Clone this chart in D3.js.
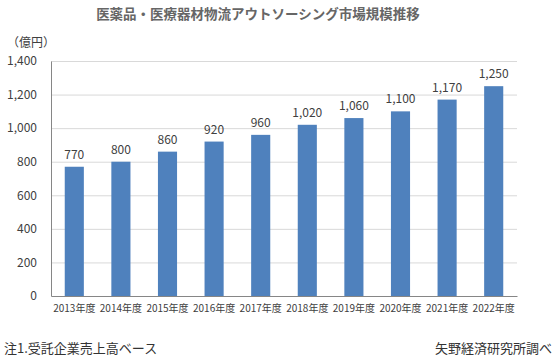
<!DOCTYPE html>
<html>
<head>
<meta charset="utf-8">
<script src="https://cdn.jsdelivr.net/npm/d3@7"></script>
<style>
  body { margin: 0; background: #fff; }
  text { font-family: "Noto Sans CJK JP", "Noto Sans", sans-serif; }
</style>
</head>
<body>
<div id="chart"></div>
<script>
const years = ['2013年度', '2014年度', '2015年度', '2016年度', '2017年度', '2018年度', '2019年度', '2020年度', '2021年度', '2022年度'];
const values = [770, 800, 860, 920, 960, 1020, 1060, 1100, 1170, 1250];
const yTicks = [0, 200, 400, 600, 800, 1000, 1200, 1400];

const width = 559;
const height = 362;
const plotLeft = 51, plotRight = 517, plotTop = 61, plotBottom = 296;

const svg = d3.select('#chart')
  .append('svg')
  .attr('width', width)
  .attr('height', height);

const x = d3.scaleBand().domain(years).range([plotLeft, plotRight]).paddingInner(0.59).paddingOuter(0.295);
const y = d3.scaleLinear().domain([0, 1400]).range([plotBottom, plotTop]);

// gridlines
svg.append('g')
  .selectAll('line')
  .data(yTicks.filter(d => d > 0))
  .enter()
  .append('line')
  .attr('x1', plotLeft)
  .attr('x2', plotRight)
  .attr('y1', d => y(d) + 0.5)
  .attr('y2', d => y(d) + 0.5)
  .attr('stroke', '#d9d9d9');

// bars
svg.append('g')
  .selectAll('rect')
  .data(values)
  .enter()
  .append('rect')
  .attr('x', (d, i) => x(years[i]))
  .attr('y', d => y(d))
  .attr('width', x.bandwidth())
  .attr('height', d => plotBottom - y(d))
  .attr('fill', '#4f81bd');

// value labels
svg.append('g')
  .selectAll('text')
  .data(values)
  .enter()
  .append('text')
  .attr('x', (d, i) => x(years[i]) + x.bandwidth() / 2)
  .attr('y', d => y(d) - 8)
  .attr('text-anchor', 'middle')
  .attr('font-size', 12)
  .attr('fill', '#404040')
  .text(d => d3.format(',')(d));

// axes
const yAxis = d3.axisLeft(y).tickValues(yTicks).tickFormat(d3.format(',')).tickSize(0).tickPadding(14);
const gy = svg.append('g')
  .attr('transform', 'translate(' + plotLeft + ',0)')
  .call(yAxis);
gy.select('.domain').attr('stroke', '#868686');
gy.selectAll('text').attr('font-size', 12).attr('fill', '#404040');

const xAxis = d3.axisBottom(x).tickSize(0).tickPadding(9);
const gx = svg.append('g')
  .attr('transform', 'translate(0,' + plotBottom + ')')
  .call(xAxis);
gx.select('.domain').attr('stroke', '#868686');
gx.selectAll('text').attr('font-size', 10).attr('fill', '#404040');

// title and notes
svg.append('text')
  .attr('x', 258)
  .attr('y', 19)
  .attr('text-anchor', 'middle')
  .attr('font-size', 13.5)
  .attr('font-weight', 'bold')
  .attr('fill', '#666')
  .text('医薬品・医療器材物流アウトソーシング市場規模推移');

svg.append('text')
  .attr('x', 7)
  .attr('y', 47)
  .attr('font-size', 12)
  .attr('fill', '#404040')
  .text('（億円）');

svg.append('text')
  .attr('x', 4)
  .attr('y', 353)
  .attr('font-size', 13)
  .attr('fill', '#333')
  .text('注1.受託企業売上高ベース');

svg.append('text')
  .attr('x', 552)
  .attr('y', 353)
  .attr('text-anchor', 'end')
  .attr('font-size', 13)
  .attr('fill', '#333')
  .text('矢野経済研究所調べ');
</script>
</body>
</html>
